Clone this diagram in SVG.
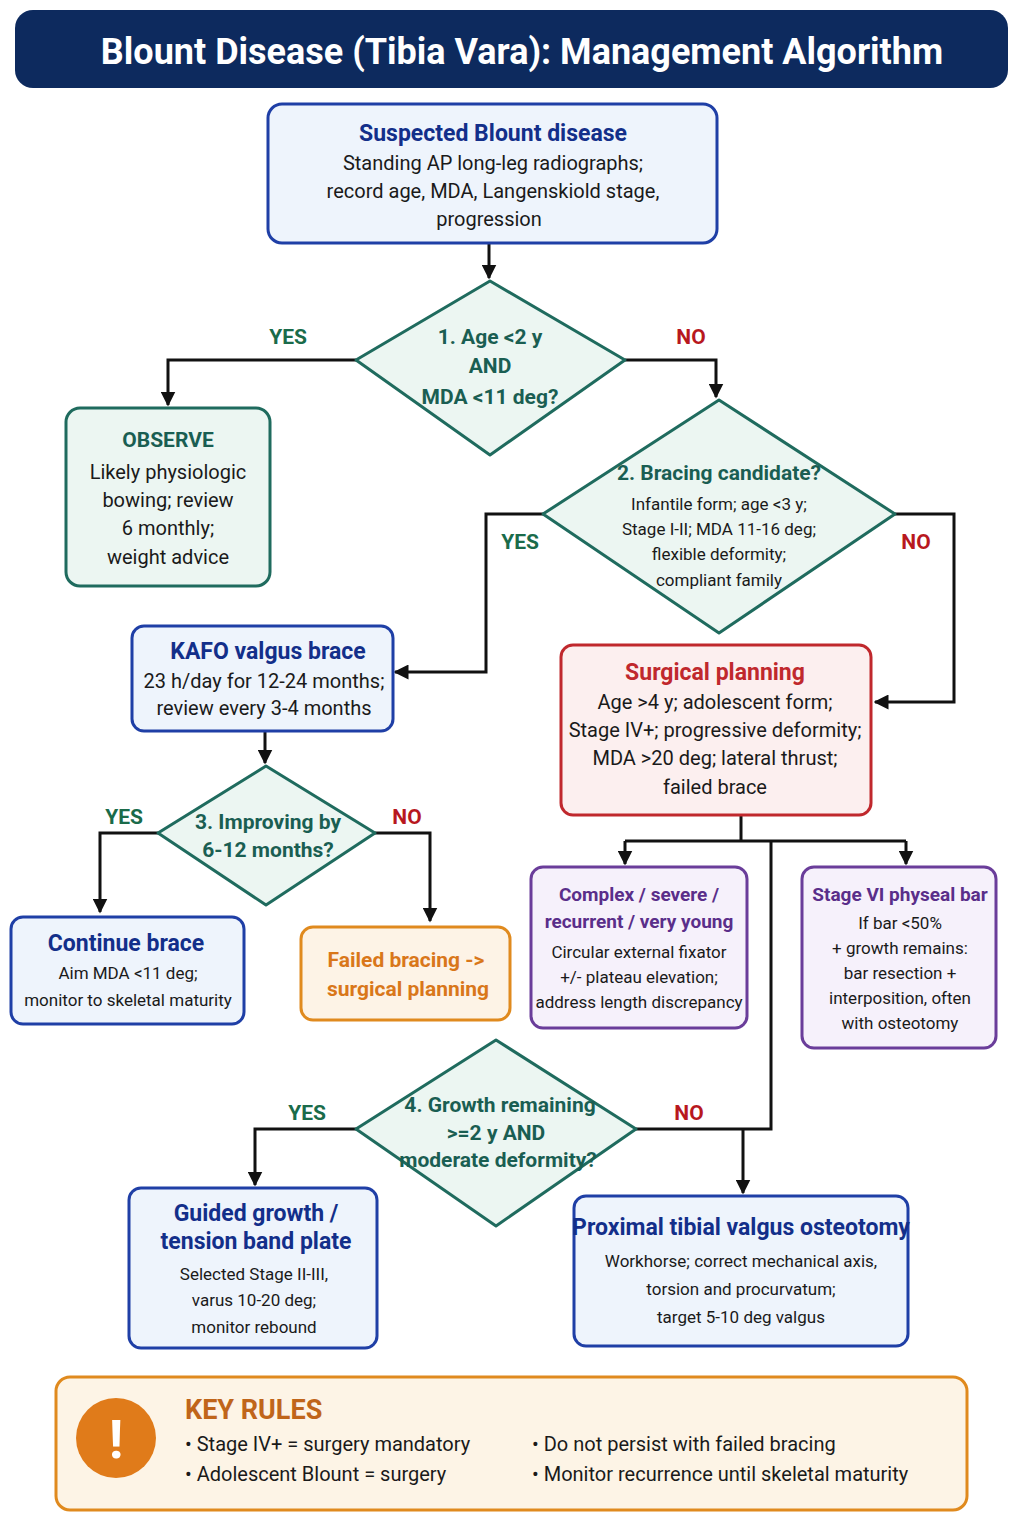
<svg xmlns="http://www.w3.org/2000/svg" width="1024" height="1536" viewBox="0 0 1024 1536">
<defs>
<marker id="ah" viewBox="0 0 10 10" refX="9" refY="5" markerWidth="5" markerHeight="5" orient="auto"><path d="M0,0 L10,5 L0,10 z" fill="#111"/></marker>
</defs>
<style>
text{font-family:Roboto,"Liberation Sans",sans-serif;text-anchor:middle}
.b{fill:#eef4fc;stroke:#1f3fa6;stroke-width:3}
.t{fill:#ecf6f2;stroke:#1f6b5e;stroke-width:3}
.r{fill:#fcefef;stroke:#c0282d;stroke-width:3}
.p{fill:#f6f1fb;stroke:#6a3d9a;stroke-width:3}
.o{fill:#fdf3e6;stroke:#e08a1e;stroke-width:3}
.bt{fill:#132f8a;font-weight:bold;font-size:23px}
.tt{fill:#1a5e52;font-weight:bold;font-size:21px}
.rt{fill:#c0282d;font-weight:bold;font-size:23px}
.pt{fill:#5a2e8a;font-weight:bold;font-size:19px}
.ot{fill:#d9771a;font-weight:bold;font-size:21px}
.x{fill:#1a1a1a;font-size:20px}
.s{fill:#1a1a1a;font-size:17px}
.yes{fill:#1a6b4a;font-weight:bold;font-size:21px}
.no{fill:#b8181e;font-weight:bold;font-size:21px}
.c{fill:none;stroke:#111;stroke-width:3}
.l{text-anchor:start}
</style>
<rect width="1024" height="1536" fill="#fff"/>
<g id="title"><rect x="15" y="10" width="993" height="78" rx="18" fill="#0d2a5e"/><text x="522" y="64" font-size="36" font-weight="bold" fill="#fff">Blount Disease (Tibia Vara): Management Algorithm</text></g>
<g id="connectors">
<path class="c" d="M489,243 V278" marker-end="url(#ah)"/>
<path class="c" d="M356,360 H168 V405" marker-end="url(#ah)"/>
<path class="c" d="M625,360 H716 V397" marker-end="url(#ah)"/>
<path class="c" d="M543,514 H486 V672 H395" marker-end="url(#ah)"/>
<path class="c" d="M895,514 H954 V702 H875" marker-end="url(#ah)"/>
<path class="c" d="M265,731 V763" marker-end="url(#ah)"/>
<path class="c" d="M158,833 H100 V912" marker-end="url(#ah)"/>
<path class="c" d="M375,833 H430 V921" marker-end="url(#ah)"/>
<path class="c" d="M741,815 V841"/>
<path class="c" d="M625,841 H906"/>
<path class="c" d="M625,841 V864" marker-end="url(#ah)"/>
<path class="c" d="M906,841 V864" marker-end="url(#ah)"/>
<path class="c" d="M771,841 V1129 H636"/>
<path class="c" d="M743,1129 V1193" marker-end="url(#ah)"/>
<path class="c" d="M356,1129 H255 V1185" marker-end="url(#ah)"/>
<text class="yes" x="288" y="344">YES</text><text class="no" x="691" y="344">NO</text>
<text class="yes" x="520" y="549">YES</text><text class="no" x="916" y="549">NO</text>
<text class="yes" x="124" y="824">YES</text><text class="no" x="407" y="824">NO</text>
<text class="yes" x="307" y="1120">YES</text><text class="no" x="689" y="1120">NO</text>
</g>
<g id="start"><rect class="b" x="268" y="104" width="449" height="139" rx="14"/><text class="bt" x="493" y="141">Suspected Blount disease</text><text class="x" x="493" y="170">Standing AP long-leg radiographs;</text><text class="x" x="493" y="198">record age, MDA, Langenskiold stage,</text><text class="x" x="489" y="226">progression</text></g>
<g id="d1"><path class="t" d="M490,281 L625,360 L490,455 L356,360 Z" stroke-linejoin="round"/><text class="tt" x="490" y="344">1. Age &lt;2 y</text><text class="tt" x="490" y="373">AND</text><text class="tt" x="490" y="404">MDA &lt;11 deg?</text></g>
<g id="observe"><rect class="t" x="66" y="408" width="204" height="178" rx="14"/><text class="tt" x="168" y="447" font-size="22">OBSERVE</text><text class="x" x="168" y="479">Likely physiologic</text><text class="x" x="168" y="507">bowing; review</text><text class="x" x="168" y="535">6 monthly;</text><text class="x" x="168" y="564">weight advice</text></g>
<g id="d2"><path class="t" d="M719,400 L895,514 L719,633 L543,514 Z" stroke-linejoin="round"/><text class="tt" x="719" y="480" font-size="20">2. Bracing candidate?</text><text class="s" x="719" y="510">Infantile form; age &lt;3 y;</text><text class="s" x="719" y="535">Stage I-II; MDA 11-16 deg;</text><text class="s" x="719" y="560">flexible deformity;</text><text class="s" x="719" y="586">compliant family</text></g>
<g id="kafo"><rect class="b" x="132" y="626" width="261" height="105" rx="12"/><text class="bt" x="268" y="659" font-size="22">KAFO valgus brace</text><text class="x" x="264" y="688" font-size="18">23 h/day for 12-24 months;</text><text class="x" x="264" y="715" font-size="18">review every 3-4 months</text></g>
<g id="surg"><rect class="r" x="561" y="645" width="310" height="170" rx="12"/><text class="rt" x="715" y="680">Surgical planning</text><text class="x" x="715" y="709" font-size="19">Age &gt;4 y; adolescent form;</text><text class="x" x="715" y="737" font-size="19">Stage IV+; progressive deformity;</text><text class="x" x="715" y="765" font-size="19">MDA &gt;20 deg; lateral thrust;</text><text class="x" x="715" y="794" font-size="19">failed brace</text></g>
<g id="d3"><path class="t" d="M266,766 L375,833 L266,905 L158,833 Z" stroke-linejoin="round"/><text class="tt" x="268" y="829" font-size="19">3. Improving by</text><text class="tt" x="268" y="857" font-size="19">6-12 months?</text></g>
<g id="cont"><rect class="b" x="11" y="917" width="233" height="107" rx="12"/><text class="bt" x="126" y="951" font-size="21">Continue brace</text><text class="s" x="128" y="979" font-size="18">Aim MDA &lt;11 deg;</text><text class="s" x="128" y="1006" font-size="18">monitor to skeletal maturity</text></g>
<g id="failed"><rect class="o" x="301" y="927" width="209" height="93" rx="12"/><text class="ot" x="406" y="967">Failed bracing -&gt;</text><text class="ot" x="408" y="996">surgical planning</text></g>
<g id="complex"><rect class="p" x="531" y="867" width="216" height="161" rx="12"/><text class="pt" x="639" y="901">Complex / severe /</text><text class="pt" x="639" y="928">recurrent / very young</text><text class="s" x="639" y="958">Circular external fixator</text><text class="s" x="639" y="983">+/- plateau elevation;</text><text class="s" x="639" y="1008">address length discrepancy</text></g>
<g id="stage6"><rect class="p" x="802" y="867" width="194" height="181" rx="12"/><text class="pt" x="900" y="901">Stage VI physeal bar</text><text class="s" x="900" y="929">If bar &lt;50%</text><text class="s" x="900" y="954">+ growth remains:</text><text class="s" x="900" y="979">bar resection +</text><text class="s" x="900" y="1004">interposition, often</text><text class="s" x="900" y="1029">with osteotomy</text></g>
<g id="d4"><path class="t" d="M496,1040 L636,1129 L496,1226 L356,1129 Z" stroke-linejoin="round"/><text class="tt" x="500" y="1112" font-size="19">4. Growth remaining</text><text class="tt" x="496" y="1140" font-size="19">&gt;=2 y AND</text><text class="tt" x="498" y="1167" font-size="19">moderate deformity?</text></g>
<g id="guided"><rect class="b" x="129" y="1188" width="248" height="160" rx="12"/><text class="bt" x="256" y="1221" font-size="22">Guided growth /</text><text class="bt" x="256" y="1249" font-size="22">tension band plate</text><text class="s" x="254" y="1280" font-size="18">Selected Stage II-III,</text><text class="s" x="254" y="1306" font-size="18">varus 10-20 deg;</text><text class="s" x="254" y="1333" font-size="18">monitor rebound</text></g>
<g id="osteo"><rect class="b" x="574" y="1196" width="334" height="150" rx="12"/><text class="bt" x="741" y="1235" font-size="21">Proximal tibial valgus osteotomy</text><text class="s" x="741" y="1267" font-size="18">Workhorse; correct mechanical axis,</text><text class="s" x="741" y="1295" font-size="18">torsion and procurvatum;</text><text class="s" x="741" y="1323" font-size="18">target 5-10 deg valgus</text></g>
<g id="keyrules"><rect x="56" y="1377" width="911" height="133" rx="14" fill="#fdf4e6" stroke="#e08a1e" stroke-width="3"/><circle cx="116" cy="1438" r="40" fill="#e07b1a"/><text x="116" y="1458" font-size="54" font-weight="bold" fill="#fff">!</text><text class="l" x="185" y="1419" font-size="27" font-weight="bold" fill="#c0651a">KEY RULES</text>
<text class="x l" x="185" y="1451" font-size="19">•  Stage IV+ = surgery mandatory</text><text class="x l" x="185" y="1481" font-size="19">•  Adolescent Blount = surgery</text><text class="x l" x="532" y="1451" font-size="19">•  Do not persist with failed bracing</text><text class="x l" x="532" y="1481" font-size="19">•  Monitor recurrence until skeletal maturity</text></g>
</svg>
